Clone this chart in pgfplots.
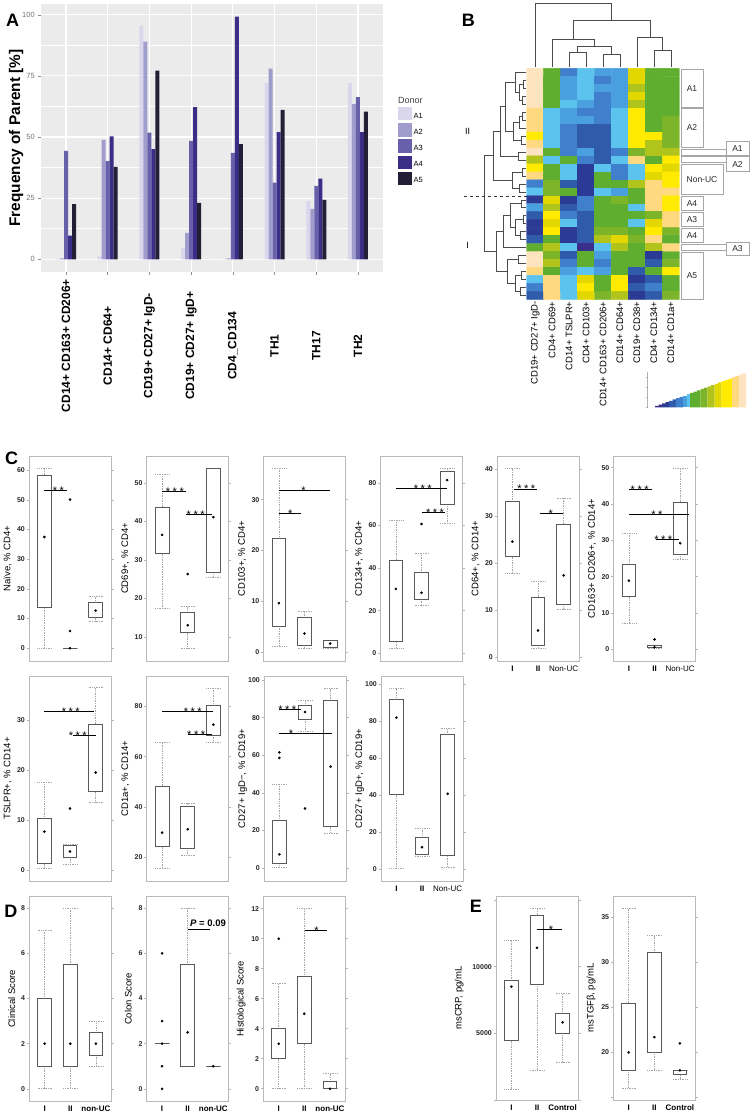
\documentclass[border=0pt]{standalone}
\usepackage{fontspec}
\setmainfont{Liberation Sans}
\usepackage{pgfplots}
\pgfplotsset{compat=1.18}
\usepgfplotslibrary{statistics}

\definecolor{ggbg}{RGB}{235,235,235}
\definecolor{dA1}{RGB}{218,214,235}
\definecolor{dA2}{RGB}{160,156,203}
\definecolor{dA3}{RGB}{104,96,170}
\definecolor{dA4}{RGB}{58,46,135}
\definecolor{dA5}{RGB}{34,31,55}
\definecolor{hm0}{RGB}{59,47,140}
\definecolor{hm1}{RGB}{43,58,148}
\definecolor{hm2}{RGB}{47,91,170}
\definecolor{hm3}{RGB}{63,127,203}
\definecolor{hm4}{RGB}{74,160,222}
\definecolor{hm5}{RGB}{91,195,238}
\definecolor{hm6}{RGB}{96,174,47}
\definecolor{hm7}{RGB}{125,181,42}
\definecolor{hm8}{RGB}{176,196,28}
\definecolor{hm9}{RGB}{226,216,0}
\definecolor{hm10}{RGB}{255,234,0}
\definecolor{hm11}{RGB}{255,217,128}
\definecolor{hm12}{RGB}{253,227,190}

\newcommand\fs[1]{\fontsize{#1}{#1}\selectfont}
\def\tS{*\kern2.5pt*\kern2.5pt*}
\def\dS{*\kern2.5pt*}

\pgfplotsset{
  /pgf/number format/assume math mode=true,
  dleg/.style={legend image code/.code={\fill[##1] (0pt,-3.95pt) rectangle (13.3pt,9.35pt);}},
  bp/.style={anchor=north west, scale only axis, width=82pt, height=205pt,
    xmin=0.4, xmax=3.6, clip=false,
    axis line style={gray!55, line width=0.7pt},
    tick align=outside, major tick length=2.5pt,
    ytick pos=both, yticklabel pos=left,
    ytick style={gray!60, line width=0.5pt},
    xtick=\empty,
    yticklabel style={font=\bfseries\fs{7}, text=black!85, inner sep=1.5pt},
    ylabel style={font=\fs{9.5}, at={(axis description cs:-0.26,0.5)}, anchor=center},
    boxplot/draw direction=y,
    boxplot/box extend=0.54, boxplot/whisker extend=0.54,
    boxplot/every box/.style={draw=black!65, line width=0.9pt},
    boxplot/every whisker/.style={draw=gray!70, densely dotted, line width=0.7pt},
    boxplot/every median/.style={draw=none},
  },
  xl/.style={xtick={1,2,3}, xticklabels={#1}, xtick style={draw=none},
    xticklabel style={font=\fs{8}, yshift=1.5pt}},
}

\newcommand\bx[5]{\addplot[boxplot prepared={draw position=#1, lower whisker=#2, lower quartile=#3, median=#3, upper quartile=#4, upper whisker=#5}] coordinates {};}
\newcommand\dts[1]{\addplot[only marks, mark=*, mark size=1.1pt, draw=black, fill=black] coordinates {#1};}
\newcommand\sig[5]{\addplot[black, line width=0.8pt] coordinates {(#1,#3) (#2,#3)};
  \node[font=\fs{11}, anchor=base, inner sep=0pt, yshift=-4pt] at (axis cs:#5,#3) {#4};}

\begin{document}
\begin{tikzpicture}
\useasboundingbox (0pt,-1113pt) rectangle (750pt,0pt);

% ---------------- page overlay: dendrograms, annotations, letters
\begin{axis}[at={(0pt,0pt)}, anchor=north west, scale only axis, width=750pt, height=1113pt,
  xmin=0, xmax=750, ymin=0, ymax=1113, y dir=reverse, hide axis, clip=false]
\addplot[black!70, line width=0.6pt, unbounded coords=jump] coordinates {
(569.2,66.7)(569.2,52.3)(586.2,52.3)(586.2,66.7) (nan,nan)
(603.2,66.7)(603.2,54.3)(620.2,54.3)(620.2,66.7) (nan,nan)
(577.7,52.3)(577.7,46.7)(611.7,46.7)(611.7,54.3) (nan,nan)
(552.2,66.7)(552.2,39.3)(594.7,39.3)(594.7,46.7) (nan,nan)
(654.2,66.7)(654.2,50)(671.2,50)(671.2,66.7) (nan,nan)
(637.2,66.7)(637.2,37.3)(662.7,37.3)(662.7,50) (nan,nan)
(573.4,39.3)(573.4,20.7)(650,20.7)(650,37.3) (nan,nan)
(535.2,66.7)(535.2,3.3)(611.7,3.3)(611.7,20.7)
};
\addplot[black!70, line width=0.6pt, unbounded coords=jump] coordinates {
(526,80.3)(523,80.3)(523,88.2)(526,88.2) (nan,nan)
(526,96.2)(522,96.2)(522,104.2)(526,104.2) (nan,nan)
(523,84.25)(519,84.25)(519,100.2)(522,100.2) (nan,nan)
(526,72.3)(515,72.3)(515,92.2)(519,92.2) (nan,nan)
(526,112.1)(522,112.1)(522,120.1)(526,120.1) (nan,nan)
(522,116.1)(519,116.1)(519,128.1)(526,128.1) (nan,nan)
(526,136.0)(521,136.0)(521,144.0)(526,144.0) (nan,nan)
(519,122.1)(513,122.1)(513,140)(521,140) (nan,nan)
(515,82.25)(505,82.25)(505,131.05)(513,131.05) (nan,nan)
(526,152.0)(518,152.0)(518,159.9)(526,159.9) (nan,nan)
(505,106.65)(500,106.65)(500,155.95)(518,155.95) (nan,nan)
(526,167.9)(522,167.9)(522,175.9)(526,175.9) (nan,nan)
(526,183.8)(519,183.8)(519,191.8)(526,191.8) (nan,nan)
(522,171.9)(512,171.9)(512,187.8)(519,187.8) (nan,nan)
(500,131.3)(493,131.3)(493,179.85)(512,179.85) (nan,nan)
(526,199.8)(521,199.8)(521,207.7)(526,207.7) (nan,nan)
(526,215.7)(523,215.7)(523,223.7)(526,223.7) (nan,nan)
(526,231.6)(520,231.6)(520,239.6)(526,239.6) (nan,nan)
(523,219.7)(515,219.7)(515,235.6)(520,235.6) (nan,nan)
(521,203.75)(510,203.75)(510,227.65)(515,227.65) (nan,nan)
(510,215.7)(503,215.7)(503,247.6)(526,247.6) (nan,nan)
(526,255.5)(518,255.5)(518,263.5)(526,263.5) (nan,nan)
(526,271.5)(521,271.5)(521,279.4)(526,279.4) (nan,nan)
(526,287.4)(520,287.4)(520,295.4)(526,295.4) (nan,nan)
(521,275.45)(515,275.45)(515,291.4)(520,291.4) (nan,nan)
(518,259.5)(507,259.5)(507,283.4)(515,283.4) (nan,nan)
(503,231.65)(496,231.65)(496,271.45)(507,271.45) (nan,nan)
(493,155.6)(484.3,155.6)(484.3,251.55)(496,251.55)
};
\addplot[black!80, dashed, line width=0.6pt] coordinates {(464.3,195.8) (680,195.8)};
\draw[gray!70, line width=0.6pt] (axis cs:681,68.8) rectangle (axis cs:703,107.6);
\draw[gray!70, line width=0.6pt] (axis cs:681,108.6) rectangle (axis cs:703,147.5);
\draw[gray!70, line width=0.6pt] (axis cs:681,149) rectangle (axis cs:726,155.3);
\draw[gray!70, line width=0.6pt] (axis cs:726,141) rectangle (axis cs:749,155.3);
\draw[gray!70, line width=0.6pt] (axis cs:681,156.7) rectangle (axis cs:726,162.7);
\draw[gray!70, line width=0.6pt] (axis cs:726,156.7) rectangle (axis cs:749,171.7);
\draw[gray!70, line width=0.6pt] (axis cs:681,164.3) rectangle (axis cs:723,194.5);
\draw[gray!70, line width=0.6pt] (axis cs:681,196.7) rectangle (axis cs:703,210.7);
\draw[gray!70, line width=0.6pt] (axis cs:681,212.3) rectangle (axis cs:703,226.3);
\draw[gray!70, line width=0.6pt] (axis cs:681,228.1) rectangle (axis cs:703,242.6);
\draw[gray!70, line width=0.6pt] (axis cs:681,244) rectangle (axis cs:726,250.5);
\draw[gray!70, line width=0.6pt] (axis cs:726,242) rectangle (axis cs:749,255.3);
\draw[gray!70, line width=0.6pt] (axis cs:681,252.3) rectangle (axis cs:703,299.3);
\begin{scope}[every node/.style={font=\fs{8.5}, text=black!85}]
\node at (axis cs:692,88.2) {A1};
\node at (axis cs:692,128) {A2};
\node at (axis cs:737.5,148.2) {A1};
\node at (axis cs:737.5,164.2) {A2};
\node at (axis cs:702,179.4) {Non-UC};
\node at (axis cs:692,203.7) {A4};
\node at (axis cs:692,219.3) {A3};
\node at (axis cs:692,235.3) {A4};
\node at (axis cs:737.5,248.7) {A3};
\node at (axis cs:692,275.8) {A5};
\end{scope}
\node[font=\fs{9}] at (axis cs:467.7,131.7) {II};
\node[font=\fs{9}] at (axis cs:467.7,245) {I};
\node[font=\fs{9}, text=black!75, anchor=west, inner sep=0pt] at (axis cs:398,100.3) {Donor};
\node[font=\bfseries\fs{18}] at (axis cs:12.5,20.3) {A};
\node[font=\bfseries\fs{18}] at (axis cs:468.3,20) {B};
\node[font=\bfseries\fs{18}] at (axis cs:11.7,458.3) {C};
\node[font=\bfseries\fs{18}] at (axis cs:10.8,911.7) {D};
\node[font=\bfseries\fs{18}] at (axis cs:475.8,905.8) {E};
\node[font=\bfseries\fs{9.5}, anchor=base west, inner sep=0pt] at (axis cs:190,926) {\textit{P} = 0.09};
\end{axis}

% ---------------- Panel A
\begin{axis}[at={(41pt,-4pt)}, anchor=north west, scale only axis, width=342pt, height=268pt,
  xmin=0.4, xmax=8.6, ymin=-5.2, ymax=104.4,
  axis background/.style={fill=ggbg}, axis line style={draw=none},
  ybar=0pt, bar width=4pt,
  xtick={1,...,8},
  xticklabels={CD14+ CD163+ CD206+, CD14+ CD64+, CD19+ CD27+ IgD-, CD19+ CD27+ IgD+, CD4\_CD134, TH1, TH17, TH2},
  ytick={0,25,50,75,100}, minor ytick={12.5,37.5,62.5,87.5},
  grid=both, major grid style={white, line width=1.1pt}, minor grid style={white, line width=0.5pt},
  tick pos=left, tick align=outside, major tick length=2.75pt, minor tick length=0pt,
  tick style={black!45, line width=0.5pt},
  yticklabel style={font=\fs{7.5}, text=black!55},
  xticklabel style={font=\bfseries\fs{12}, yshift=-71pt, rotate=90, anchor=center},
  ylabel={Frequency of Parent [\%]},
  ylabel style={font=\bfseries\fs{15.4}, at={(axis description cs:-0.073,0.5)}, anchor=center},
  legend style={at={(1.0439,0.6157)}, anchor=north west, draw=none, fill=none,
    font=\fs{7.5}, inner sep=0pt, row sep=1.4pt},
  legend cell align=left,
]
\addplot[fill=dA1, draw=none, dleg] coordinates {(1,0.3) (2,1.2) (3,95.5) (4,4.6) (5,0.3) (6,72) (7,23.8) (8,72)};
\addplot[fill=dA2, draw=none, dleg] coordinates {(1,0.4) (2,48.8) (3,89) (4,10.8) (5,0.4) (6,78) (7,20.6) (8,63.5)};
\addplot[fill=dA3, draw=none, dleg] coordinates {(1,44.3) (2,40.1) (3,51.8) (4,48.4) (5,43.5) (6,31.4) (7,30) (8,66.3)};
\addplot[fill=dA4, draw=none, dleg] coordinates {(1,9.7) (2,50.3) (3,45.1) (4,62.2) (5,99.2) (6,52) (7,33) (8,52)};
\addplot[fill=dA5, draw=none, dleg] coordinates {(1,22.6) (2,37.8) (3,77.2) (4,23.1) (5,47.1) (6,61.1) (7,24.3) (8,60.4)};
\legend{A1,A2,A3,A4,A5}
\end{axis}

% ---------------- Panel B heatmap
\begin{axis}[at={(526.7pt,-68.3pt)}, anchor=north west, scale only axis, width=152.6pt, height=231pt,
  xmin=-0.5, xmax=8.5, ymin=-28.5, ymax=0.5, enlargelimits=false,
  axis line style={draw=none}, ytick=\empty, xtick={0,...,8}, major tick length=0pt,
  xticklabels={CD19+ CD27+ IgD-, CD4+ CD69+, CD14+ TSLPR+, CD4+ CD103+, CD14+ CD163+ CD206+, CD14+ CD64+, CD19+ CD38+, CD4+ CD134+, CD14+ CD1a+},
  xticklabel style={font=\fs{9.5}, rotate=90, anchor=east, inner sep=2pt},
  colormap={hm}{rgb255=(59,47,140) rgb255=(43,58,148) rgb255=(47,91,170) rgb255=(63,127,203) rgb255=(74,160,222) rgb255=(91,195,238) rgb255=(96,174,47) rgb255=(125,181,42) rgb255=(176,196,28) rgb255=(226,216,0) rgb255=(255,234,0) rgb255=(255,217,128) rgb255=(253,227,190)},
  colormap access=direct,
]
\addplot[matrix plot*, point meta=explicit, mesh/cols=9] table[meta=c, row sep=\\] {x y c\\
0 0 12\\1 0 6\\2 0 3\\3 0 5\\4 0 4\\5 0 4\\6 0 9\\7 0 6\\8 0 6\\
0 -1 12\\1 -1 6\\2 -1 4\\3 -1 5\\4 -1 3\\5 -1 4\\6 -1 9\\7 -1 6\\8 -1 6\\
0 -2 12\\1 -2 6\\2 -2 4\\3 -2 5\\4 -2 4\\5 -2 4\\6 -2 8\\7 -2 6\\8 -2 6\\
0 -3 12\\1 -3 6\\2 -3 4\\3 -3 5\\4 -3 3\\5 -3 4\\6 -3 9\\7 -3 6\\8 -3 6\\
0 -4 12\\1 -4 6\\2 -4 5\\3 -4 4\\4 -4 3\\5 -4 4\\6 -4 8\\7 -4 6\\8 -4 6\\
0 -5 11\\1 -5 5\\2 -5 4\\3 -5 3\\4 -5 3\\5 -5 5\\6 -5 10\\7 -5 6\\8 -5 6\\
0 -6 11\\1 -6 5\\2 -6 4\\3 -6 4\\4 -6 3\\5 -6 5\\6 -6 10\\7 -6 6\\8 -6 7\\
0 -7 11\\1 -7 5\\2 -7 3\\3 -7 2\\4 -7 2\\5 -7 5\\6 -7 10\\7 -7 6\\8 -7 7\\
0 -8 10\\1 -8 5\\2 -8 3\\3 -8 2\\4 -8 2\\5 -8 5\\6 -8 10\\7 -8 10\\8 -8 7\\
0 -9 11\\1 -9 5\\2 -9 3\\3 -9 2\\4 -9 2\\5 -9 5\\6 -9 10\\7 -9 8\\8 -9 7\\
0 -10 12\\1 -10 6\\2 -10 3\\3 -10 4\\4 -10 2\\5 -10 3\\6 -10 7\\7 -10 8\\8 -10 8\\
0 -11 8\\1 -11 5\\2 -11 6\\3 -11 3\\4 -11 2\\5 -11 5\\6 -11 11\\7 -11 6\\8 -11 10\\
0 -12 10\\1 -12 6\\2 -12 5\\3 -12 1\\4 -12 5\\5 -12 3\\6 -12 5\\7 -12 10\\8 -12 9\\
0 -13 11\\1 -13 6\\2 -13 5\\3 -13 1\\4 -13 6\\5 -13 3\\6 -13 5\\7 -13 9\\8 -13 10\\
0 -14 3\\1 -14 7\\2 -14 2\\3 -14 1\\4 -14 6\\5 -14 6\\6 -14 8\\7 -14 11\\8 -14 10\\
0 -15 5\\1 -15 7\\2 -15 6\\3 -15 1\\4 -15 5\\5 -15 4\\6 -15 6\\7 -15 11\\8 -15 11\\
0 -16 1\\1 -16 9\\2 -16 1\\3 -16 3\\4 -16 6\\5 -16 7\\6 -16 6\\7 -16 11\\8 -16 10\\
0 -17 4\\1 -17 8\\2 -17 2\\3 -17 3\\4 -17 6\\5 -17 6\\6 -17 5\\7 -17 11\\8 -17 10\\
0 -18 2\\1 -18 10\\2 -18 3\\3 -18 2\\4 -18 6\\5 -18 6\\6 -18 6\\7 -18 7\\8 -18 11\\
0 -19 1\\1 -19 9\\2 -19 5\\3 -19 2\\4 -19 6\\5 -19 6\\6 -19 5\\7 -19 9\\8 -19 11\\
0 -20 1\\1 -20 10\\2 -20 1\\3 -20 2\\4 -20 7\\5 -20 7\\6 -20 6\\7 -20 10\\8 -20 7\\
0 -21 2\\1 -21 6\\2 -21 1\\3 -21 2\\4 -21 8\\5 -21 9\\6 -21 7\\7 -21 11\\8 -21 6\\
0 -22 6\\1 -22 8\\2 -22 5\\3 -22 0\\4 -22 5\\5 -22 8\\6 -22 6\\7 -22 8\\8 -22 11\\
0 -23 12\\1 -23 7\\2 -23 2\\3 -23 6\\4 -23 4\\5 -23 6\\6 -23 6\\7 -23 1\\8 -23 6\\
0 -24 12\\1 -24 8\\2 -24 3\\3 -24 6\\4 -24 3\\5 -24 6\\6 -24 6\\7 -24 2\\8 -24 7\\
0 -25 11\\1 -25 6\\2 -25 4\\3 -25 5\\4 -25 4\\5 -25 6\\6 -25 2\\7 -25 6\\8 -25 10\\
0 -26 5\\1 -26 11\\2 -26 5\\3 -26 9\\4 -26 6\\5 -26 10\\6 -26 1\\7 -26 2\\8 -26 6\\
0 -27 3\\1 -27 11\\2 -27 5\\3 -27 10\\4 -27 6\\5 -27 10\\6 -27 2\\7 -27 3\\8 -27 6\\
0 -28 2\\1 -28 11\\2 -28 5\\3 -28 9\\4 -28 7\\5 -28 8\\6 -28 1\\7 -28 2\\8 -28 7\\
};
\end{axis}

% ---------------- colour key
\begin{axis}[at={(646.7pt,-372.3pt)}, anchor=north west, scale only axis, width=99.3pt, height=35pt,
  xmin=-2.4, xmax=26, ymin=0, ymax=35, axis x line=none, axis y line=left,
  ytick={0,10,20,30}, yticklabels={}, y axis line style={gray!60, line width=0.4pt, -},
  ytick style={gray!60, line width=0.4pt}, major tick length=2pt]
\addplot[ybar, bar width=3.55pt, bar shift=0pt, fill=hm0, draw=none] coordinates {(0.5,1.31) (1.5,2.62)};
\addplot[ybar, bar width=3.55pt, bar shift=0pt, fill=hm1, draw=none] coordinates {(2.5,3.92) (3.5,5.23)};
\addplot[ybar, bar width=3.55pt, bar shift=0pt, fill=hm2, draw=none] coordinates {(4.5,6.54) (5.5,7.85)};
\addplot[ybar, bar width=3.55pt, bar shift=0pt, fill=hm3, draw=none] coordinates {(6.5,9.15) (7.5,10.46)};
\addplot[ybar, bar width=3.55pt, bar shift=0pt, fill=hm4, draw=none] coordinates {(8.5,11.77)};
\addplot[ybar, bar width=3.55pt, bar shift=0pt, fill=hm5, draw=none] coordinates {(9.5,13.08)};
\addplot[ybar, bar width=3.55pt, bar shift=0pt, fill=hm6, draw=none] coordinates {(10.5,14.38) (11.5,15.69) (12.5,17.0)};
\addplot[ybar, bar width=3.55pt, bar shift=0pt, fill=hm7, draw=none] coordinates {(13.5,18.31) (14.5,19.62)};
\addplot[ybar, bar width=3.55pt, bar shift=0pt, fill=hm8, draw=none] coordinates {(15.5,20.92) (16.5,22.23)};
\addplot[ybar, bar width=3.55pt, bar shift=0pt, fill=hm9, draw=none] coordinates {(17.5,23.54) (18.5,24.85)};
\addplot[ybar, bar width=3.55pt, bar shift=0pt, fill=hm10, draw=none] coordinates {(19.5,26.15) (20.5,27.46) (21.5,28.77)};
\addplot[ybar, bar width=3.55pt, bar shift=0pt, fill=hm11, draw=none] coordinates {(22.5,30.08) (23.5,31.38)};
\addplot[ybar, bar width=3.55pt, bar shift=0pt, fill=hm12, draw=none] coordinates {(24.5,32.69) (25.5,34.0)};
\end{axis}

% ---------------- Panel C, row 1
\begin{axis}[bp, at={(29pt,-456pt)}, ymin=-4.3, ymax=64.8, ytick={0,10,...,60}, ylabel={Naïve, \% CD4+}]
\bx{1}{0}{13.6}{58.4}{60.7}
\bx{2}{0}{0}{0}{0}
\bx{3}{9.0}{10.3}{15.4}{17.4}
\dts{(1,37.5) (2,0) (2,5.8) (2,50.1) (3,12.7)}
\sig{1}{1.9}{53.3}{\dS}{1.55}
\end{axis}

\begin{axis}[bp, at={(146.7pt,-456pt)}, ymin=3.7, ymax=57, ytick={10,20,...,50}, ylabel={CD69+, \% CD4+}]
\bx{1}{17.4}{31.6}{43.7}{52.2}
\bx{2}{7.0}{11.1}{16.35}{18.0}
\bx{3}{25.4}{26.8}{53.7}{53.7}
\dts{(1,36.5) (2,13.0) (2,26.3) (3,41.1)}
\sig{1}{1.92}{47.8}{\tS}{1.5}
\sig{1.92}{2.93}{41.8}{\tS}{2.31}
\end{axis}

\begin{axis}[bp, at={(263.5pt,-456pt)}, ymin=-1.8, ymax=38.6, ytick={0,10,20,30}, ylabel={CD103+, \% CD4+}]
\bx{1}{1.1}{5.1}{22.4}{36.2}
\bx{2}{0.67}{1.26}{6.7}{8.0}
\bx{3}{0.7}{0.87}{2.2}{2.2}
\dts{(1,9.6) (2,3.6) (3,1.65)}
\sig{1}{3.0}{31.9}{*}{1.96}
\sig{1}{1.87}{27.3}{*}{1.44}
\end{axis}

\begin{axis}[bp, at={(380.5pt,-456pt)}, ymin=-3.6, ymax=92.6, ytick={0,20,...,80}, ylabel={CD134+, \% CD4+}]
\bx{1}{2.3}{5.4}{43.8}{62.6}
\bx{2}{22.3}{25.5}{37.8}{46.9}
\bx{3}{61.0}{69.9}{85.2}{86.8}
\dts{(1,30.2) (2,28.4) (2,60.7) (3,81.3)}
\sig{1}{3.0}{77.4}{\tS}{2.05}
\sig{2.02}{2.93}{66.2}{\tS}{2.53}
\end{axis}

\begin{axis}[bp, at={(497pt,-456pt)}, ymin=-0.8, ymax=42.8, ytick={0,10,...,40}, ylabel={CD64+, \% CD14+},
  xl={\textbf{I},\textbf{II},Non-UC}]
\bx{1}{17.8}{21.4}{33.1}{40.2}
\bx{2}{1.9}{2.6}{12.8}{16.2}
\bx{3}{10.2}{11.3}{28.3}{33.9}
\dts{(1,24.6) (2,5.7) (3,17.4)}
\sig{1.05}{1.95}{35.8}{\tS}{1.54}
\sig{2.08}{2.99}{30.6}{*}{2.5}
\end{axis}

\begin{axis}[bp, at={(613.5pt,-456pt)}, ymin=-3.2, ymax=53.2, ytick={0,10,...,50}, ylabel={CD163+ CD206+, \% CD14+},
  xl={\textbf{I},\textbf{II},Non-UC}]
\bx{1}{7.2}{14.5}{23.4}{32.0}
\bx{2}{0.2}{0.4}{1.0}{1.1}
\bx{3}{24.8}{26.2}{40.5}{49.7}
\dts{(1,18.9) (2,0.6) (2,2.75) (3,29.2)}
\sig{1}{1.9}{43.9}{\tS}{1.42}
\sig{1}{3.35}{37.2}{\dS}{2.09}
\sig{2.06}{2.96}{30.3}{\tS}{2.34}
\end{axis}

% ---------------- Panel C, row 2
\begin{axis}[bp, at={(29pt,-676pt)}, ymin=-2.1, ymax=38.9, ytick={0,10,20,30}, ylabel={TSLPR+, \% CD14+}]
\bx{1}{0.5}{1.4}{10.4}{17.7}
\bx{2}{1.3}{2.7}{5.0}{5.3}
\bx{3}{13.7}{15.8}{29.3}{36.6}
\dts{(1,7.8) (2,3.8) (2,12.4) (3,19.6)}
\sig{1}{2.95}{31.8}{\tS}{2.03}
\sig{2.1}{3.0}{27.1}{\tS}{2.3}
\end{axis}

\begin{axis}[bp, at={(146.7pt,-676pt)}, ymin=10.7, ymax=92, ytick={20,40,60,80}, ylabel={CD1a+, \% CD14+}]
\bx{1}{15.8}{24.3}{48.3}{65.7}
\bx{2}{21.0}{23.7}{40.1}{41.6}
\bx{3}{65.7}{68.6}{80.3}{87.0}
\dts{(1,29.9) (2,31.2) (3,72.7)}
\sig{1}{3.0}{78.0}{\tS}{2.2}
\sig{2.0}{2.95}{69.0}{\tS}{2.33}
\end{axis}

\begin{axis}[bp, at={(264pt,-676pt)}, ymin=-6.9, ymax=102.2, ytick={0,20,...,100}, ylabel={CD27+ IgD−, \% CD19+}]
\bx{1}{0.4}{2.5}{25.3}{44.8}
\bx{2}{72.7}{79.3}{86.5}{89.5}
\bx{3}{18.6}{22.1}{89.1}{95.5}
\dts{(1,7.3) (1,58.6) (1,61.5) (2,83.1) (2,31.7) (3,54)}
\sig{1}{1.85}{84.6}{\tS}{1.31}
\sig{1}{3.05}{71.8}{*}{1.45}
\end{axis}

\begin{axis}[bp, at={(381pt,-676pt)}, ymin=-6.6, ymax=104.3, ytick={0,20,...,100}, ylabel={CD27+ IgD+, \% CD19+},
  xl={\textbf{I},\textbf{II},Non-UC}]
\bx{1}{0.5}{40.1}{91.7}{97.4}
\bx{2}{7}{8}{17.1}{21.9}
\bx{3}{0.8}{7}{72.6}{76.2}
\dts{(1,81.8) (2,11.7) (3,40.6)}
\end{axis}

% ---------------- Panel D
\begin{axis}[bp, at={(29.3pt,-896.7pt)}, height=204.3pt, ymin=-0.54, ymax=8.51, ytick={0,2,...,8},
  ylabel={Clinical Score}, ylabel style={at={(axis description cs:-0.215,0.5)}},
  xl={\textbf{I},\textbf{II},\textbf{non-UC}}]
\bx{1}{0}{1}{4}{7}
\bx{2}{0}{1}{5.5}{8}
\bx{3}{1}{1.5}{2.5}{3}
\dts{(1,2) (2,2) (3,2)}
\end{axis}

\begin{axis}[bp, at={(146.7pt,-896.7pt)}, height=204.3pt, ymin=-0.54, ymax=8.51, ytick={0,2,...,8},
  ylabel={Colon Score}, ylabel style={at={(axis description cs:-0.224,0.5)}},
  xl={\textbf{I},\textbf{II},\textbf{non-UC}}]
\bx{1}{2}{2}{2}{2}
\bx{2}{1}{1}{5.5}{8}
\bx{3}{1}{1}{1}{1}
\dts{(1,2) (1,0) (1,1) (1,3) (1,6) (2,2.5) (3,1)}
\addplot[black, line width=0.8pt] coordinates {(2.0,7.05) (2.88,7.05)};
\end{axis}

\begin{axis}[bp, at={(263.3pt,-896.7pt)}, height=204.3pt, ymin=-0.82, ymax=12.8, ytick={0,2,...,12},
  ylabel={Histological Score}, ylabel style={at={(axis description cs:-0.27,0.5)}},
  xl={\textbf{I},\textbf{II},\textbf{non-UC}}]
\bx{1}{0}{2}{4}{7}
\bx{2}{0}{3}{7.5}{12}
\bx{3}{0}{0}{0.5}{1}
\dts{(1,3) (1,10) (2,5) (3,0)}
\sig{2.03}{2.9}{10.54}{*}{2.48}
\end{axis}

% ---------------- Panel E (msCRP in thousands of pg/mL)
\begin{axis}[bp, at={(496pt,-896pt)}, height=204pt, ymin=0, ymax=15.3,
  ytick={0,5,10,15}, yticklabels={,5000,10000,},
  ylabel={msCRP, pg/mL}, ylabel style={at={(axis description cs:-0.45,0.5)}},
  xl={\textbf{I},\textbf{II},\textbf{Control}}]
\bx{1}{0.825}{4.45}{8.95}{12.0}
\bx{2}{2.225}{8.675}{13.875}{14.375}
\bx{3}{2.825}{5.0}{6.5}{8.0}
\dts{(1,8.5) (2,11.425) (3,5.825)}
\sig{2.0}{2.98}{12.8}{*}{2.55}
\end{axis}

\begin{axis}[bp, at={(613.3pt,-896pt)}, height=204pt, ymin=14.7, ymax=37.4,
  ytick={15,20,...,35}, yticklabels={,20,25,30,35},
  ylabel={msTGFβ, pg/mL}, ylabel style={at={(axis description cs:-0.27,0.5)}},
  xl={\textbf{I},\textbf{II},\textbf{Control}}]
\bx{1}{16}{18}{25.5}{36}
\bx{2}{18}{20}{31.1}{33}
\bx{3}{17}{17.5}{18}{18}
\dts{(1,20) (2,21.7) (3,18) (3,21)}
\end{axis}

\end{tikzpicture}
\end{document}
